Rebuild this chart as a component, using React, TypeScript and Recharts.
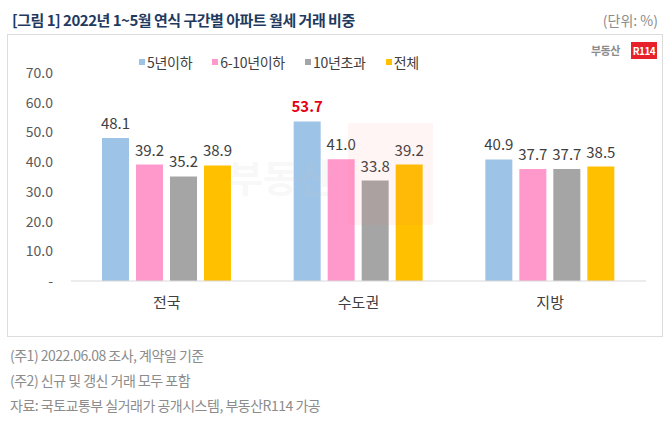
import { BarChart, Bar, XAxis, YAxis, LabelList } from "recharts";

// categories and series (unit: %)
const categories = ["전국", "수도권", "지방"];
const under5 = [48.1, 53.7, 40.9];
const from6to10 = [39.2, 41.0, 37.7];
const over10 = [35.2, 33.8, 37.7];
const total = [38.9, 39.2, 38.5];
const yTicks = [0, 10, 20, 30, 40, 50, 60, 70];

const seriesList = [
  { key: "under5", name: "5년이하", color: "#9dc3e6", values: under5 },
  { key: "from6to10", name: "6-10년이하", color: "#ff99cc", values: from6to10 },
  { key: "over10", name: "10년초과", color: "#a5a5a5", values: over10 },
  { key: "total", name: "전체", color: "#ffc000", values: total },
];

const data = categories.map((name, i) => {
  const row: { [key: string]: string | number } = { name };
  seriesList.forEach((s) => {
    row[s.key] = s.values[i];
  });
  return row;
});

const FONT = "'Noto Sans CJK KR', 'Noto Sans', sans-serif";

// the 수도권 5년이하 value is highlighted in red bold
const HighlightLabel = (props: any) => {
  const { x, y, width, value, index } = props;
  const hot = index === 1;
  return (
    <text
      x={x + width / 2}
      y={y - 9}
      textAnchor="middle"
      fontSize={15}
      fontWeight={hot ? 700 : 400}
      fill={hot ? "#e60012" : "#404040"}
      fontFamily={FONT}
    >
      {Number(value).toFixed(1)}
    </text>
  );
};

const PlainLabel = (props: any) => {
  const { x, y, width, value } = props;
  return (
    <text x={x + width / 2} y={y - 9} textAnchor="middle" fontSize={15} fill="#404040" fontFamily={FONT}>
      {Number(value).toFixed(1)}
    </text>
  );
};

export default function App() {
  return (
    <div
      style={{
        position: "absolute",
        left: 0,
        top: 0,
        width: 670,
        height: 425,
        background: "#fff",
        fontFamily: FONT,
        overflow: "hidden",
      }}
    >
      <div
        style={{
          position: "absolute",
          left: 12,
          top: 9,
          fontSize: 15,
          fontWeight: 700,
          color: "#1f3a5f",
          letterSpacing: -0.5,
          whiteSpace: "nowrap",
        }}
      >
        [그림 1] 2022년 1~5월 연식 구간별 아파트 월세 거래 비중
      </div>
      <div style={{ position: "absolute", right: 12, top: 10, fontSize: 14, color: "#8c8c8c" }}>(단위: %)</div>

      <div
        style={{
          position: "absolute",
          left: 7,
          top: 34,
          width: 656,
          height: 303,
          border: "1px solid #dcdcdc",
          boxSizing: "border-box",
        }}
      />

      {/* legend */}
      <div
        style={{
          position: "absolute",
          left: 139,
          top: 52,
          display: "flex",
          alignItems: "center",
        }}
      >
        {seriesList.map((s) => (
          <div key={s.key} style={{ display: "flex", alignItems: "center", marginRight: 20 }}>
            <span style={{ width: 6, height: 6, background: s.color, marginRight: 2, display: "inline-block" }} />
            <span style={{ fontSize: 14, color: "#404040", letterSpacing: -0.3 }}>{s.name}</span>
          </div>
        ))}
      </div>

      <div style={{ position: "absolute", left: 0, top: 0 }}>
        <BarChart
          width={670}
          height={340}
          data={data}
          margin={{ top: 73, right: 24, bottom: 29, left: 0 }}
          barSize={27}
          barGap={7}
        >
          <XAxis
            dataKey="name"
            height={30}
            axisLine={{ stroke: "#d9d9d9" }}
            tickLine={false}
            tickMargin={10}
            tick={{ fontSize: 15, fill: "#404040", fontFamily: FONT }}
          />
          <YAxis
            width={71}
            domain={[0, 70]}
            ticks={yTicks}
            axisLine={false}
            tickLine={false}
            tickSize={0}
            tickMargin={18}
            tick={{ fontSize: 14, fill: "#595959", fontFamily: FONT }}
            tickFormatter={(v: number) => (v === 0 ? "-" : v.toFixed(1))}
          />
          {seriesList.map((s, i) => (
            <Bar key={s.key} dataKey={s.key} name={s.name} fill={s.color} isAnimationActive={false}>
              <LabelList dataKey={s.key} content={i === 0 ? <HighlightLabel /> : <PlainLabel />} />
            </Bar>
          ))}
        </BarChart>
      </div>

      {/* faint watermark */}
      <div
        style={{
          position: "absolute",
          left: 348,
          top: 123,
          width: 85,
          height: 102,
          background: "rgba(255, 120, 120, 0.07)",
        }}
      />
      <div
        style={{
          position: "absolute",
          left: 228,
          top: 148,
          fontSize: 38,
          fontWeight: 700,
          color: "rgba(200, 200, 200, 0.15)",
          whiteSpace: "nowrap",
        }}
      >
        부동산
      </div>

      {/* logo */}
      <div
        style={{
          position: "absolute",
          left: 591,
          top: 42,
          fontSize: 11,
          fontWeight: 700,
          color: "#8c8c8c",
          letterSpacing: -0.5,
        }}
      >
        부동산
      </div>
      <div
        style={{
          position: "absolute",
          left: 631,
          top: 42,
          width: 26,
          height: 17,
          background: "#e8202a",
          color: "#fff",
          fontSize: 10,
          fontWeight: 700,
          textAlign: "center",
          lineHeight: "17px",
          letterSpacing: -0.5,
        }}
      >
        R114
      </div>

      <div
        style={{
          position: "absolute",
          left: 10,
          top: 343,
          fontSize: 14,
          color: "#8c8c8c",
          lineHeight: "25px",
          letterSpacing: -0.5,
        }}
      >
        <div>(주1) 2022.06.08 조사, 계약일 기준</div>
        <div>(주2) 신규 및 갱신 거래 모두 포함</div>
        <div>자료: 국토교통부 실거래가 공개시스템, 부동산R114 가공</div>
      </div>
    </div>
  );
}
